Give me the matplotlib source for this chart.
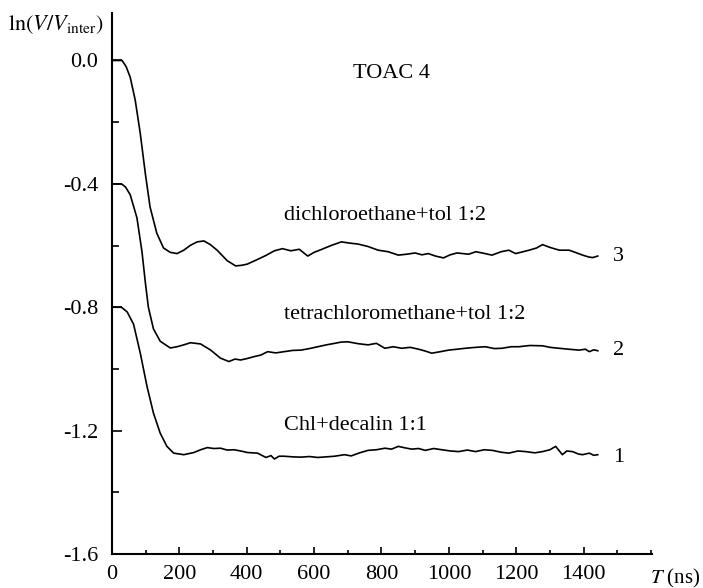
import numpy as np
import matplotlib
matplotlib.use("Agg")
import matplotlib.pyplot as plt
from matplotlib.ticker import MultipleLocator

plt.rcParams["font.family"] = ["Liberation Serif", "DejaVu Serif"]
plt.rcParams["mathtext.fontset"] = "stix"

# curve 3: dichloroethane+tol 1:2
t3 = [0, 30, 42, 54, 69, 84, 99, 113, 133, 153, 173, 193, 213, 233, 253, 273, 292, 312, 342, 367,
      385, 402, 432, 457, 482, 506, 531, 556, 581, 600, 621, 650, 681, 705, 730, 760, 790, 820,
      850, 875, 900, 920, 939, 960, 984, 1004, 1024, 1059, 1080, 1099, 1128, 1155, 1178, 1198,
      1220, 1238, 1260, 1278, 1300, 1328, 1357, 1380, 1397, 1415, 1427, 1442]
v3 = [0, 0, -0.02, -0.054, -0.129, -0.237, -0.367, -0.475, -0.56, -0.608, -0.622, -0.626, -0.615,
      -0.599, -0.588, -0.585, -0.597, -0.615, -0.649, -0.666, -0.664, -0.660, -0.645, -0.632,
      -0.617, -0.610, -0.617, -0.612, -0.634, -0.622, -0.613, -0.600, -0.588, -0.592, -0.595,
      -0.603, -0.615, -0.620, -0.631, -0.628, -0.624, -0.630, -0.626, -0.634, -0.640, -0.630,
      -0.624, -0.628, -0.620, -0.624, -0.631, -0.620, -0.615, -0.626, -0.620, -0.615, -0.608,
      -0.597, -0.606, -0.615, -0.615, -0.624, -0.631, -0.637, -0.639, -0.634]

# curve 2: tetrachloromethane+tol 1:2
t2 = [0, 28, 40, 54, 74, 89, 99, 108, 123, 143, 173, 193, 213, 233, 263, 293, 322, 347, 365, 382,
      402, 422, 442, 462, 486, 511, 536, 561, 586, 611, 636, 661, 680, 700, 730, 760, 785, 810,
      835, 860, 885, 910, 930, 949, 975, 999, 1025, 1049, 1080, 1108, 1135, 1158, 1185, 1208,
      1240, 1278, 1300, 1327, 1355, 1387, 1405, 1417, 1430, 1442]
v2 = [-0.4, -0.4, -0.41, -0.435, -0.51, -0.62, -0.72, -0.80, -0.87, -0.91, -0.932, -0.928, -0.922,
      -0.915, -0.919, -0.939, -0.965, -0.976, -0.968, -0.971, -0.966, -0.960, -0.955, -0.944,
      -0.948, -0.944, -0.940, -0.939, -0.934, -0.928, -0.922, -0.917, -0.913, -0.912, -0.918,
      -0.922, -0.917, -0.933, -0.928, -0.933, -0.930, -0.936, -0.942, -0.949, -0.944, -0.939,
      -0.936, -0.933, -0.930, -0.928, -0.934, -0.933, -0.928, -0.928, -0.924, -0.925, -0.930,
      -0.933, -0.936, -0.939, -0.936, -0.944, -0.938, -0.941]

# curve 1: Chl+decalin 1:1
t1 = [0, 28, 45, 64, 84, 104, 123, 143, 163, 183, 213, 243, 263, 283, 302, 322, 342, 362, 382,
      402, 432, 457, 472, 482, 496, 511, 536, 561, 586, 611, 636, 661, 690, 710, 735, 760, 785,
      810, 830, 850, 870, 890, 910, 930, 955, 979, 1005, 1029, 1055, 1079, 1105, 1129, 1155,
      1178, 1205, 1228, 1255, 1278, 1300, 1317, 1337, 1350, 1367, 1385, 1397, 1417, 1430, 1442]
v1 = [-0.8, -0.8, -0.815, -0.855, -0.949, -1.057, -1.143, -1.208, -1.251, -1.273, -1.278, -1.271,
      -1.262, -1.255, -1.258, -1.257, -1.263, -1.262, -1.266, -1.271, -1.273, -1.287, -1.281,
      -1.292, -1.283, -1.283, -1.285, -1.286, -1.284, -1.287, -1.285, -1.283, -1.278, -1.282,
      -1.272, -1.264, -1.262, -1.257, -1.260, -1.251, -1.256, -1.260, -1.258, -1.264, -1.258,
      -1.262, -1.266, -1.268, -1.263, -1.268, -1.262, -1.264, -1.270, -1.273, -1.266, -1.268,
      -1.272, -1.268, -1.262, -1.251, -1.278, -1.266, -1.268, -1.276, -1.278, -1.273, -1.280,
      -1.278]

curves = [(t1, v1), (t2, v2), (t3, v3)]
names = ["Chl+decalin 1:1", "tetrachloromethane+tol 1:2", "dichloroethane+tol 1:2"]
name_y = [-1.182, -0.825, -0.501]
num_y = [-1.286, -0.939, -0.637]

fig = plt.figure(figsize=(7.03, 5.88), dpi=100)
ax = fig.add_axes([112 / 703, 34 / 588, (652 - 112) / 703, (554 - 13) / 588])

for (t, v), nm, ny, my, k in zip(curves, names, name_y, num_y, ["1", "2", "3"]):
    ax.plot(t, v, color="black", lw=1.2)
    ax.text(511, ny, nm, fontsize=16, ha="left", va="center")
    ax.text(1488, my, k, fontsize=16, ha="left", va="center")

ax.text(716, -0.041, "TOAC 4", fontsize=16, ha="left", va="center")

ax.set_xlim(0, 1603)
ax.set_ylim(-1.6, 0.154)
ax.xaxis.set_major_locator(MultipleLocator(200))
ax.xaxis.set_minor_locator(MultipleLocator(100))
ax.yaxis.set_major_locator(MultipleLocator(0.4))
ax.yaxis.set_minor_locator(MultipleLocator(0.2))
ax.yaxis.set_major_formatter(matplotlib.ticker.FormatStrFormatter("%.1f"))
ax.tick_params(which="both", direction="in", labelsize=16, width=1.2)
ax.tick_params(axis="x", which="major", length=5, pad=8)
ax.tick_params(axis="x", which="minor", length=3)
ax.tick_params(axis="y", which="major", length=7, pad=10)
ax.tick_params(axis="y", which="minor", length=5)
ax.set_xticks([t for t in range(0, 1401, 200)])
for s in ["top", "right"]:
    ax.spines[s].set_visible(False)
for s in ["left", "bottom"]:
    ax.spines[s].set_linewidth(1.5)

fig.text(8 / 703, 1 - 25 / 588, r"$\mathrm{ln}(V/V_{\mathrm{inter}})$", fontsize=16,
         ha="left", va="center")
fig.text(650 / 703, 1 - 578 / 588, r"$T$ (ns)", fontsize=15, ha="left", va="center")

fig.savefig("out.png", dpi=100)
